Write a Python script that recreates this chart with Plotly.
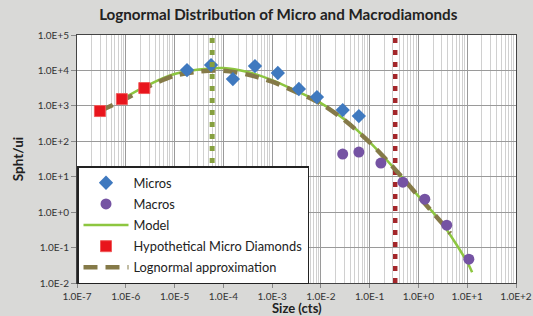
import plotly.graph_objects as go

# ---------------- data ----------------
micros_x = [1.8e-5, 5.6e-5, 1.57e-4, 4.45e-4, 1.31e-3, 3.54e-3, 8.3e-3, 2.8e-2, 6.0e-2]
micros_y = [10250, 14200, 5700, 13300, 8450, 2990, 1770, 760, 515]

macros_x = [0.028, 0.060, 0.17, 0.48, 1.35, 3.8, 10.8]
macros_y = [43.5, 49.5, 24.2, 7.0, 2.33, 0.43, 0.047]

hypo_x = [2.95e-7, 8.3e-7, 2.4e-6]
hypo_y = [713, 1550, 3180]

model_x = [8e-7, 1e-6, 3.16e-6, 1e-5, 3.16e-5, 1e-4, 3.16e-4, 1e-3, 3.16e-3,
           1e-2, 3.16e-2, 0.1, 0.316, 1.0, 3.16, 10.0, 12.6]
model_y = [1450, 1775, 4130, 7900, 10600, 11700, 9020, 5350, 2620,
           1200, 397, 95, 17.5, 2.83, 0.458, 0.0387, 0.0202]

lognorm_x = [2.95e-7, 1e-6, 3.16e-6, 1e-5, 3.16e-5, 1e-4, 3.16e-4, 1e-3, 3.16e-3,
             1e-2, 3.16e-2, 0.1, 0.316, 1.0, 3.16, 4.5]
lognorm_y = [713, 1580, 3700, 7100, 9300, 9800, 7600, 4800, 2450,
             1150, 380, 93, 17.4, 2.8, 0.46, 0.25]

green_vline_x = 5.9e-5
red_vline_x = 0.33

x_tick_vals = [1e-7, 1e-6, 1e-5, 1e-4, 1e-3, 1e-2, 1e-1, 1e0, 1e1, 1e2]
x_tick_text = ["1.0E-7", "1.0E-6", "1.0E-5", "1.0E-4", "1.0E-3", "1.0E-2",
               "1.0E-1", "1.0E+0", "1.0E+1", "1.0E+2"]
y_tick_vals = [1e-2, 1e-1, 1e0, 1e1, 1e2, 1e3, 1e4, 1e5]
y_tick_text = ["1.0E-2", "1.0E-1", "1.0E+0", "1.0E+1", "1.0E+2", "1.0E+3",
               "1.0E+4", "1.0E+5"]

FONT = "Lato, 'Open Sans', sans-serif"

fig = go.Figure()

# lines first (drawn below markers), legend order set by legendrank
fig.add_trace(go.Scatter(
    x=model_x, y=model_y, mode="lines", name="Model", legendgroup="c",
    legendrank=3,
    line=dict(color="#8dc640", width=2.5, shape="spline", smoothing=0.8)))
fig.add_trace(go.Scatter(
    x=lognorm_x, y=lognorm_y, mode="lines", name="Lognormal approximation",
    legendgroup="e", legendrank=5,
    line=dict(color="#857a48", width=4.5, dash="14px,8px", shape="spline",
              smoothing=0.8)))
fig.add_trace(go.Scatter(
    x=micros_x, y=micros_y, mode="markers", name="Micros", legendgroup="a",
    legendrank=1,
    marker=dict(symbol="diamond", size=11, color="#3f79bf")))
fig.add_trace(go.Scatter(
    x=macros_x, y=macros_y, mode="markers", name="Macros", legendgroup="b",
    legendrank=2,
    marker=dict(symbol="circle", size=11, color="#7553a3")))
fig.add_trace(go.Scatter(
    x=hypo_x, y=hypo_y, mode="markers", name="Hypothetical Micro Diamonds",
    legendgroup="d", legendrank=4,
    marker=dict(symbol="square", size=11, color="#e8141c",
                line=dict(color="#f05a5a", width=1))))

shapes = [
    dict(type="line", xref="x", yref="paper", x0=green_vline_x, x1=green_vline_x,
         y0=0, y1=1, line=dict(color="#86a040", width=5, dash="5px,7px"),
         layer="above"),
    dict(type="line", xref="x", yref="paper", x0=red_vline_x, x1=red_vline_x,
         y0=0, y1=1, line=dict(color="#a3262a", width=5, dash="5px,7px"),
         layer="between"),
]

annotations = [
    dict(text="<b>Size (cts)</b>", xref="paper", yref="paper", x=0.5, y=-0.102,
         xanchor="center", yanchor="middle", showarrow=False,
         font=dict(size=13, color="#222222", family=FONT)),
    dict(text="<b>Spht/ui</b>", xref="paper", yref="paper", x=-0.134, y=0.5,
         xanchor="center", yanchor="middle", showarrow=False, textangle=-90,
         font=dict(size=13.5, color="#222222", family=FONT)),
]

fig.update_layout(
    width=533, height=316,
    margin=dict(l=77, r=17, t=35, b=33, autoexpand=False),
    paper_bgcolor="#d9d9d7",
    plot_bgcolor="#ffffff",
    font=dict(family=FONT, color="#333333", size=10),
    title=dict(text="<b>Lognormal Distribution of Micro and Macrodiamonds</b>",
               x=0.522, xanchor="center", y=0.952, yanchor="middle",
               font=dict(size=15.2, color="#222222", family=FONT)),
    shapes=shapes,
    annotations=annotations,
    legend=dict(
        x=0, xanchor="left", y=0.47, yanchor="top",
        bgcolor="#ffffff", bordercolor="#222222", borderwidth=1.5,
        font=dict(size=12.8, color="#222222", family=FONT),
        itemwidth=45, tracegroupgap=1.5,
        traceorder="grouped",
    ),
    xaxis=dict(
        type="log", range=[-7, 2], automargin=False,
        tickvals=x_tick_vals, ticktext=x_tick_text,
        ticks="outside", ticklen=4, tickcolor="#888888",
        showline=True, linecolor="#444444", linewidth=1, mirror=True,
        showgrid=True, gridcolor="#9a9a9a", gridwidth=1,
        minor=dict(showgrid=True, gridcolor="#d0d0d0", gridwidth=1,
                   dtick="D1", ticks=""),
        tickfont=dict(size=10, color="#333333"),
        zeroline=False,
    ),
    yaxis=dict(
        type="log", range=[-2, 5], automargin=False,
        tickvals=y_tick_vals, ticktext=y_tick_text,
        ticks="outside", ticklen=5, tickcolor="#888888",
        showline=True, linecolor="#444444", linewidth=1, mirror=True,
        showgrid=True, gridcolor="#9a9a9a", gridwidth=1,
        tickfont=dict(size=10, color="#333333"),
        zeroline=False,
    ),
)

fig.write_html(
    "out.html",
    config={"displayModeBar": False},
    post_script="document.body.style.margin='0';document.body.style.padding='0';"
                "document.body.style.overflow='hidden';",
)
